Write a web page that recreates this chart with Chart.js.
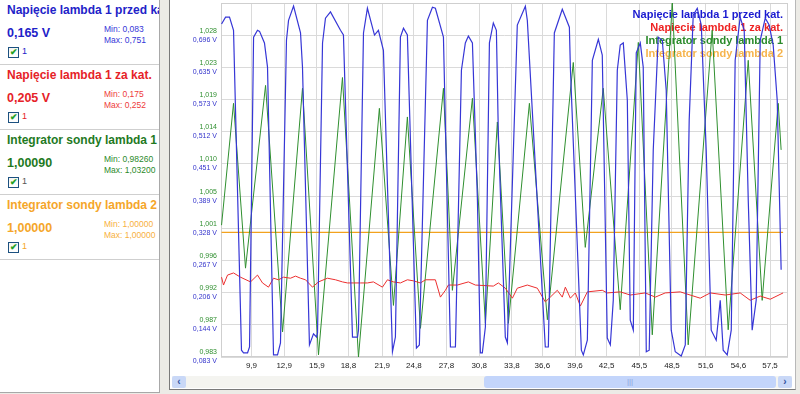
<!DOCTYPE html>
<html><head><meta charset="utf-8">
<script src="https://cdn.jsdelivr.net/npm/chart.js@4/dist/chart.umd.min.js"></script>
<style>
html,body{margin:0;padding:0;width:800px;height:394px;overflow:hidden;background:#ecebe6;font-family:"Liberation Sans",Arial,sans-serif;}
#left{position:absolute;left:0;top:0;width:159px;height:392px;background:#fff;border-right:1px solid #a8a8a8;border-bottom:1px solid #a8a8a8;}
.box{position:absolute;left:0;width:159px;height:64px;border-bottom:1px solid #cfcfcf;overflow:hidden;}
.title{position:absolute;left:7px;top:3px;font-weight:bold;font-size:12px;white-space:nowrap;}
.val{position:absolute;left:7px;top:26px;font-weight:bold;font-size:12.5px;white-space:nowrap;}
.mm{position:absolute;left:104px;font-size:8.5px;white-space:nowrap;}
.cb{position:absolute;left:8px;top:47px;width:9px;height:9px;border:1px solid #1c5180;background:linear-gradient(#f4f4f0,#ffffff);font-size:9px;line-height:9px;color:#22a022;text-align:center;font-weight:bold;}
.cbl{position:absolute;left:22px;top:46px;font-size:9px;}
#panel{position:absolute;left:169px;top:0;width:625px;height:389px;background:#fff;border-left:1px solid #7a7a7a;border-bottom:1px solid #7a7a7a;border-right:1px solid #b8b8b8;}
#c{position:absolute;left:0;top:0;}
#sb{position:absolute;left:2px;top:376px;width:620px;height:12px;background:#f4f4f0;}
#sbl{position:absolute;left:0;top:0;width:14px;height:12px;background:#c9d8f7;border-radius:2px;color:#3050a0;font-size:10px;line-height:12px;text-align:center;font-weight:bold;}
#sbr{position:absolute;right:0;top:0;width:14px;height:12px;background:#c9d8f7;border-radius:2px;color:#3050a0;font-size:10px;line-height:12px;text-align:center;font-weight:bold;}
#sbt{position:absolute;left:312px;top:0;width:292px;height:12px;background:#c3d5fb;border-radius:3px;color:#8aa4dc;font-size:8px;line-height:12px;text-align:center;}
</style></head>
<body>
<div id="left">
  <div class="box" style="top:0;color:#2222c8">
    <div class="title">Napięcie lambda 1 przed kat.</div>
    <div class="val">0,165 V</div>
    <div class="mm" style="top:24px;color:#3535d8">Min: 0,083</div>
    <div class="mm" style="top:35px;color:#3535d8">Max: 0,751</div>
    <div class="cb">✔</div><div class="cbl">1</div>
  </div>
  <div class="box" style="top:65px;color:#e62228">
    <div class="title">Napięcie lambda 1 za kat.</div>
    <div class="val">0,205 V</div>
    <div class="mm" style="top:24px;color:#ee3a3a">Min: 0,175</div>
    <div class="mm" style="top:35px;color:#ee3a3a">Max: 0,252</div>
    <div class="cb">✔</div><div class="cbl">1</div>
  </div>
  <div class="box" style="top:130px;color:#1f7a1f">
    <div class="title">Integrator sondy lambda 1</div>
    <div class="val">1,00090</div>
    <div class="mm" style="top:24px;color:#2a8a2a">Min: 0,98260</div>
    <div class="mm" style="top:35px;color:#2a8a2a">Max: 1,03200</div>
    <div class="cb">✔</div><div class="cbl" style="color:#555">1</div>
  </div>
  <div class="box" style="top:195px;color:#f5a62a">
    <div class="title">Integrator sondy lambda 2</div>
    <div class="val">1,00000</div>
    <div class="mm" style="top:24px;color:#f7b040">Min: 1,00000</div>
    <div class="mm" style="top:35px;color:#f7b040">Max: 1,00000</div>
    <div class="cb">✔</div><div class="cbl">1</div>
  </div>
</div>
<div id="panel">
  <canvas id="c" width="625" height="374"></canvas>
  <div id="sb"><div id="sbl">&lsaquo;</div><div id="sbt">|||</div><div id="sbr">&rsaquo;</div></div>
</div>
<script>
// ---- data ----
const seriesNames = ['Napięcie lambda 1 przed kat.','Napięcie lambda 1 za kat.','Integrator sondy lambda 1','Integrator sondy lambda 2'];
const xTickLabels = ['9,9','12,9','15,9','18,8','21,9','24,8','27,8','30,8','33,8','36,6','39,6','42,5','45,5','48,5','51,6','54,6','57,5'];
const voltTickLabels = ['0,083 V','0,144 V','0,206 V','0,267 V','0,328 V','0,389 V','0,451 V','0,512 V','0,573 V','0,635 V','0,696 V'];
const integTickLabels = ['0,983','0,987','0,992','0,996','1,001','1,005','1,010','1,014','1,019','1,023','1,028'];
const timeMin = 7.1, timeMax = 59.15;
const voltMin = 0.083, voltMax = 0.757;
const integMin = 0.9826, integMax = 1.032;

const blueT = [7.15,7.52,7.88,8.25,8.98,9.17,9.54,9.72,10.09,10.45,10.64,11.09,11.37,11.92,12.29,12.56,13.11,13.30,13.76,14.40,14.58,15.22,15.59,15.87,15.96,16.42,16.69,17.15,18.07,18.34,19.17,19.63,19.72,20.18,20.54,21.19,21.55,22.01,22.84,23.11,23.57,23.85,24.21,25.04,25.31,26.05,26.51,26.78,27.52,28.16,28.62,29.17,29.53,29.81,30.18,30.64,30.91,31.09,31.37,31.74,32.10,32.38,32.56,33.20,33.39,34.30,35.04,35.22,36.87,37.15,37.70,38.43,39.08,39.17,40.18,40.36,40.73,41.19,41.74,42.10,
  42.56,42.84,43.11,43.48,43.75,44.03,44.40,44.67,44.95,45.22,45.59,45.86,46.14,46.41,46.78,47.24,47.61,47.97,48.43,48.80,49.35,49.72,50.08,50.45,50.82,51.19,51.64,52.10,52.56,52.93,53.20,53.57,53.94,54.30,54.76,55.13,55.50,55.86,56.23,56.60,57.06,57.42,57.79,58.16,58.52];
const blueV = [0.717,0.730,0.730,0.705,0.096,0.091,0.091,0.102,0.692,0.705,0.703,0.681,0.635,0.087,0.087,0.110,0.686,0.724,0.751,0.700,0.635,0.106,0.127,0.121,0.129,0.681,0.728,0.740,0.705,0.696,0.121,0.121,0.134,0.700,0.747,0.696,0.705,0.667,0.093,0.121,0.692,0.709,0.696,0.100,0.106,0.724,0.749,0.747,0.692,0.102,0.102,0.629,0.681,0.694,0.681,0.382,0.091,0.091,0.140,0.681,0.719,0.705,0.509,0.121,0.110,0.715,0.751,0.724,0.102,0.102,0.700,0.745,0.711,0.635,0.096,0.087,0.115,0.648,0.688,0.658,
  0.119,0.106,0.191,0.629,0.677,0.681,0.572,0.153,0.134,0.662,0.681,0.635,0.093,0.096,0.477,0.692,0.686,0.591,0.134,0.093,0.085,0.106,0.534,0.734,0.747,0.715,0.477,0.134,0.115,0.191,0.096,0.087,0.134,0.648,0.730,0.705,0.382,0.134,0.191,0.686,0.728,0.715,0.677,0.572,0.249];

const redT = [7.15,7.33,7.70,8.25,8.89,9.81,10.45,10.91,11.46,11.92,12.38,12.84,13.48,13.94,14.40,14.86,15.50,16.05,16.87,17.61,18.25,18.71,19.26,19.90,20.54,21.09,21.92,22.38,22.93,23.57,24.21,24.76,25.41,25.87,26.78,27.24,27.70,27.97,28.80,29.81,30.45,32.10,32.56,33.20,33.85,34.30,35.22,36.14,36.87,37.33,37.97,38.43,38.71,39.17,39.63,40.09,40.73,42.10,42.56,43.75,44.67,46.05,46.97,47.88,49.26,50.17,51.09,52.01,53.39,54.76,55.68,56.60,57.52,58.70];
const redV = [0.235,0.220,0.239,0.243,0.235,0.226,0.239,0.224,0.216,0.233,0.230,0.235,0.233,0.237,0.233,0.230,0.216,0.226,0.233,0.230,0.226,0.224,0.224,0.224,0.224,0.226,0.216,0.230,0.226,0.224,0.230,0.228,0.224,0.230,0.230,0.197,0.210,0.220,0.220,0.226,0.220,0.218,0.224,0.214,0.195,0.214,0.220,0.214,0.188,0.197,0.210,0.197,0.216,0.195,0.205,0.180,0.207,0.210,0.205,0.207,0.201,0.205,0.197,0.205,0.207,0.201,0.195,0.205,0.201,0.205,0.191,0.199,0.193,0.205];

const greenT = [7.15,8.25,9.35,11.19,12.75,14.58,16.05,18.25,19.72,21.64,22.93,24.21,25.41,27.52,28.34,30.18,31.37,32.47,33.48,35.41,37.06,39.44,40.54,42.19,43.75,45.41,46.69,48.53,49.99,52.19,53.66,55.50,56.78,58.25,58.52];
const greenV = [1.0010,1.0180,0.9950,1.0205,0.9861,1.0201,0.9829,1.0216,0.9826,1.0173,0.9898,1.0161,0.9866,1.0201,0.9919,1.0187,0.9873,1.0154,0.9873,1.0180,0.9878,1.0237,0.9979,1.0201,0.9892,1.0265,0.9857,1.0320,0.9843,1.0282,0.9864,1.0240,0.9905,1.0180,1.0115];

const orangeT = [7.15,58.70];
const orangeV = [1.0000,1.0000];

const pts = (t,v)=>t.map((x,i)=>({x:x,y:v[i]}));

const colBlue='#3636d6', colRed='#ec2f2f', colGreen='#2f8f2f', colOrange='#f2a21e';

const yLabelPlugin = {
  id:'yLabels',
  afterDraw(chart){
    const {ctx, chartArea, scales} = chart;
    ctx.save();
    ctx.font = '7px "Liberation Sans", Arial';
    ctx.textAlign = 'right'; ctx.textBaseline = 'middle';
    const n = voltTickLabels.length;
    for (let i=0;i<n;i++){
      const gy = scales.yI.getPixelForValue(integMin + i*(integMax-integMin)/11);
      const by = scales.yV.getPixelForValue(voltMin + i*(voltMax-voltMin)/11);
      ctx.fillStyle = '#2f8f2f'; ctx.fillText(integTickLabels[i], chartArea.left-4, gy-4.5);
      ctx.fillStyle = '#3434cc'; ctx.fillText(voltTickLabels[i], chartArea.left-4, by+4.5);
    }
    ctx.restore();
  },
  beforeDatasetsDraw(chart){
    const {ctx, chartArea} = chart;
    ctx.save();
    ctx.strokeStyle = '#cfcfcf'; ctx.lineWidth = 1;
    ctx.strokeRect(chartArea.left+0.5, chartArea.top+0.5, chartArea.right-chartArea.left-1, chartArea.bottom-chartArea.top-1);
    ctx.font = 'bold 11px "Liberation Sans", Arial';
    ctx.textAlign = 'right'; ctx.textBaseline = 'middle';
    const cols = ['#1a1ad0','#ee2222','#2a8a2a','#f6b44c'];
    seriesNames.forEach((s,i)=>{ ctx.fillStyle = cols[i]; ctx.fillText(s, chartArea.right-5, 15 + i*13); });
    ctx.restore();
  }
};

new Chart(document.getElementById('c'), {
  type:'line',
  data:{ datasets:[
    {label:seriesNames[0], data:pts(blueT,blueV), yAxisID:'yV', borderColor:colBlue, borderWidth:1.2, pointRadius:0, tension:0},
    {label:seriesNames[1], data:pts(redT,redV), yAxisID:'yV', borderColor:colRed, borderWidth:1, pointRadius:0, tension:0},
    {label:seriesNames[2], data:pts(greenT,greenV), yAxisID:'yI', borderColor:colGreen, borderWidth:1, pointRadius:0, tension:0},
    {label:seriesNames[3], data:pts(orangeT,orangeV), yAxisID:'yI', borderColor:colOrange, borderWidth:1.2, pointRadius:0, tension:0}
  ]},
  options:{
    responsive:false, animation:false, events:[],
    layout:{padding:{top:3,right:7,left:0,bottom:0}},
    plugins:{legend:{display:false}, tooltip:{enabled:false}},
    scales:{
      x:{type:'linear', min:timeMin, max:timeMax,
        afterBuildTicks:s=>{ s.ticks = xTickLabels.map(l=>({value:parseFloat(l.replace(',','.'))})); },
        afterFit:s=>{ s.height = 17; },
        ticks:{autoSkip:false, maxRotation:0, padding:4, color:'#222', font:{size:8, family:'"Liberation Sans", Arial'}, callback:(v,i)=>xTickLabels[i]},
        grid:{color:'#dadada', drawTicks:false}, border:{display:false}},
      yV:{type:'linear', position:'left', min:voltMin, max:voltMax,
        afterBuildTicks:s=>{ s.ticks = voltTickLabels.map((l,i)=>({value: voltMin + i*(voltMax-voltMin)/11})); },
        afterFit:s=>{ s.width = 51; },
        ticks:{display:false}, grid:{color:'#dadada', drawTicks:false}, border:{display:false}},
      yI:{type:'linear', position:'left', min:integMin, max:integMax, display:false}
    }
  },
  plugins:[yLabelPlugin]
});
</script>
</body></html>
